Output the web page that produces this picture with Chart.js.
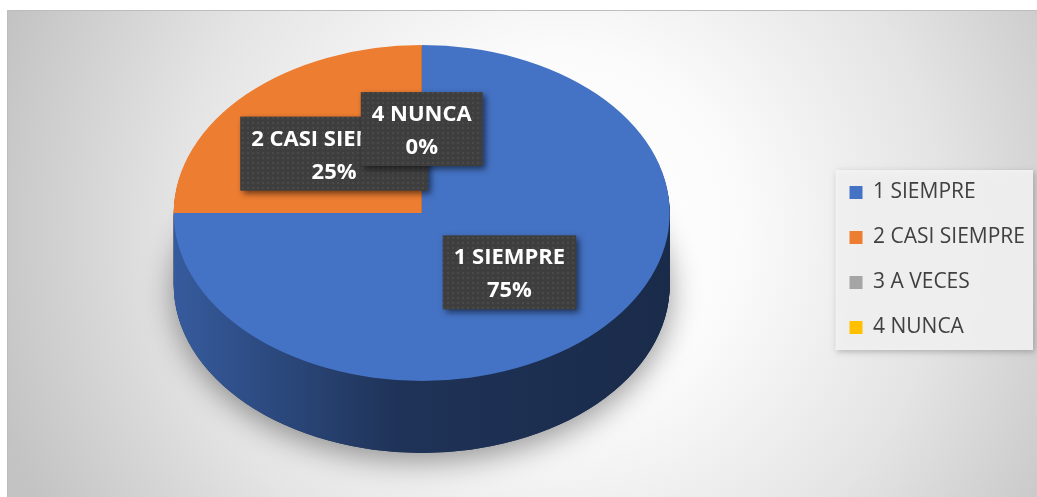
<!DOCTYPE html>
<html>
<head>
<meta charset="utf-8">
<script src="https://cdn.jsdelivr.net/npm/chart.js@4.4.0/dist/chart.umd.min.js"></script>
<style>
  html, body { margin: 0; padding: 0; background: #fff; }
  canvas { display: block; }
</style>
</head>
<body>
<canvas id="graficoPizza" width="1037" height="497"></canvas>
<script>
const categorias = ["1 SIEMPRE", "2 CASI SIEMPRE", "3 A VECES", "4 NUNCA"];
const valores = [75, 25, 0, 0];
const cores = ["#4472C4", "#ED7D31", "#A5A5A5", "#FFC000"];

// aparencia 3D
const centroY = 213;
const achatamento = 0.677;
const profundidade = 72;

function escurecer(hex, f) {
  const n = parseInt(hex.slice(1), 16);
  const r = Math.round(((n >> 16) & 255) * f);
  const g = Math.round(((n >> 8) & 255) * f);
  const b = Math.round((n & 255) * f);
  return `rgb(${r},${g},${b})`;
}

function projetar(ctx, arco, dy) {
  ctx.translate(0, centroY + dy);
  ctx.scale(1, achatamento);
  ctx.translate(0, -arco.y);
}

function criarTextura() {
  const c = document.createElement("canvas");
  c.width = 5;
  c.height = 5;
  const g = c.getContext("2d");
  g.fillStyle = "#3e3e3e";
  g.fillRect(0, 0, 5, 5);
  g.fillStyle = "#4a4a4a";
  g.fillRect(2, 2, 2, 2);
  return c;
}

const fundo = {
  id: "fundo",
  beforeDraw(chart) {
    const ctx = chart.ctx;
    ctx.save();
    ctx.fillStyle = "#ffffff";
    ctx.fillRect(0, 0, chart.width, chart.height);
    const grad = ctx.createRadialGradient(560, 230, 0, 560, 230, 590);
    grad.addColorStop(0, "#ffffff");
    grad.addColorStop(0.3, "#fbfbfb");
    grad.addColorStop(0.65, "#e4e4e4");
    grad.addColorStop(1, "#c3c3c3");
    ctx.fillStyle = grad;
    ctx.fillRect(7, 10, chart.width - 7, chart.height - 10);
    ctx.strokeStyle = "#bdbdbd";
    ctx.lineWidth = 1;
    ctx.beginPath();
    ctx.moveTo(7.5, chart.height);
    ctx.lineTo(7.5, 10.5);
    ctx.lineTo(chart.width, 10.5);
    ctx.stroke();

    // caixa da legenda
    const leg = chart.legend;
    const pad = leg.options.labels.padding;
    const col = leg.columnSizes[0];
    const topo = (leg.top + pad + leg.bottom - col.height) / 2;
    const x0 = leg.left + pad - 14;
    const y0 = topo - 12;
    const x1 = leg.right - 2;
    const y1 = topo + col.height - pad + 12;
    ctx.shadowColor = "rgba(0,0,0,0.25)";
    ctx.shadowBlur = 6;
    ctx.shadowOffsetX = 2;
    ctx.shadowOffsetY = 2;
    ctx.fillStyle = "rgba(243,243,243,0.92)";
    ctx.fillRect(x0, y0, x1 - x0, y1 - y0);
    ctx.restore();
  }
};

const pizza3d = {
  id: "pizza3d",
  beforeDatasetsDraw(chart) {
    const ctx = chart.ctx;
    const arcos = chart.getDatasetMeta(0).data;
    const a0 = arcos[0];
    const r = a0.outerRadius;

    // sombra
    ctx.save();
    projetar(ctx, a0, profundidade);
    ctx.shadowColor = "rgba(0,0,0,0.4)";
    ctx.shadowBlur = 30;
    ctx.shadowOffsetY = 8;
    ctx.fillStyle = "#1b2c4f";
    ctx.beginPath();
    ctx.arc(a0.x, a0.y, r, 0, Math.PI * 2);
    ctx.fill();
    ctx.restore();

    const laterais = cores.map(cor => {
      const g = ctx.createLinearGradient(a0.x - r, 0, a0.x + r, 0);
      g.addColorStop(0, escurecer(cor, 0.8));
      g.addColorStop(0.45, escurecer(cor, 0.45));
      g.addColorStop(1, escurecer(cor, 0.38));
      return g;
    });

    for (let d = profundidade; d > 0; d--) {
      ctx.save();
      projetar(ctx, a0, d);
      arcos.forEach((arco, i) => {
        if (arco.endAngle - arco.startAngle <= 0) return;
        ctx.beginPath();
        ctx.moveTo(arco.x, arco.y);
        ctx.arc(arco.x, arco.y, arco.outerRadius, arco.startAngle, arco.endAngle);
        ctx.closePath();
        ctx.fillStyle = laterais[i];
        ctx.fill();
      });
      ctx.restore();
    }

    ctx.save();
    projetar(ctx, a0, 0);
  },
  afterDatasetsDraw(chart) {
    chart.ctx.restore();
    desenharRotulos(chart);
  }
};

function desenharRotulos(chart) {
  const ctx = chart.ctx;
  const arcos = chart.getDatasetMeta(0).data;
  const total = valores.reduce((a, b) => a + b, 0);
  const textura = ctx.createPattern(criarTextura(), "repeat");

  const posicoes = arcos.map(arco => {
    const p = arco.tooltipPosition();
    return { x: p.x, y: centroY + (p.y - arco.y) * achatamento };
  });

  ctx.save();
  ctx.font = "bold 22px 'Open Sans'";
  ctx.textAlign = "center";
  ctx.textBaseline = "alphabetic";

  posicoes.forEach((p, i) => {
    // rotulo coberto por outro na mesma posicao nao aparece
    const coberto = posicoes.some((q, j) => j > i && Math.abs(q.x - p.x) < 1 && Math.abs(q.y - p.y) < 1);
    if (coberto) return;

    const pct = Math.round(valores[i] / total * 100) + "%";
    const largura = Math.max(ctx.measureText(categorias[i]).width, ctx.measureText(pct).width) + 22;
    const altura = 74;
    const x0 = p.x - largura / 2;
    const y0 = p.y - altura / 2;

    ctx.save();
    ctx.shadowColor = "rgba(0,0,0,0.55)";
    ctx.shadowBlur = 6;
    ctx.shadowOffsetX = 3;
    ctx.shadowOffsetY = 3;
    ctx.fillStyle = textura;
    ctx.fillRect(x0, y0, largura, altura);
    ctx.restore();

    ctx.fillStyle = "#ffffff";
    ctx.fillText(categorias[i], p.x, p.y - 8);
    ctx.fillText(pct, p.x, p.y + 25);
  });
  ctx.restore();
}

const ctx = document.getElementById("graficoPizza").getContext("2d");

new Chart(ctx, {
  type: "pie",
  data: {
    labels: categorias,
    datasets: [{
      data: valores,
      backgroundColor: cores,
      borderWidth: 0,
      radius: 248,
      clip: false
    }]
  },
  options: {
    responsive: false,
    animation: false,
    layout: {
      padding: { left: 18, top: 23, right: 2, bottom: 0 }
    },
    plugins: {
      legend: {
        position: "right",
        labels: {
          boxWidth: 13,
          boxHeight: 13,
          padding: 24,
          color: "#404040",
          font: { family: "'Open Sans'", size: 21 }
        }
      },
      tooltip: { enabled: false }
    }
  },
  plugins: [fundo, pizza3d]
});
</script>
</body>
</html>
